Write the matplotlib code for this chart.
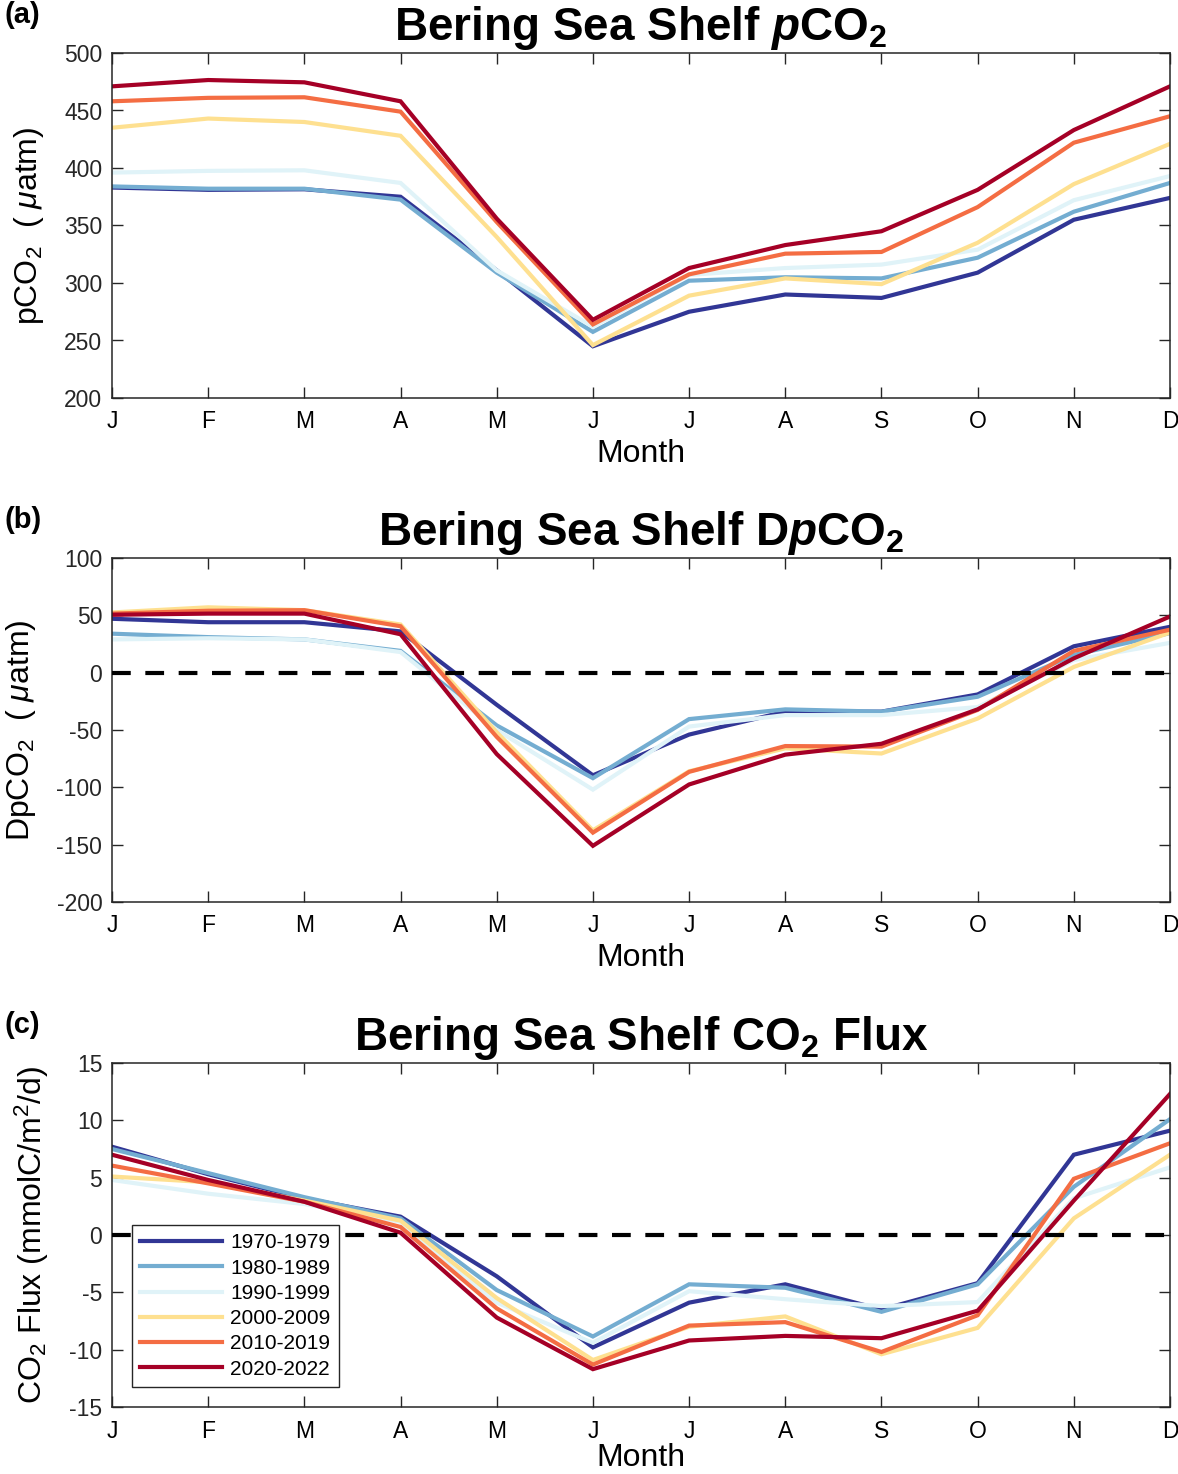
import matplotlib
matplotlib.use("Agg")
import matplotlib.pyplot as plt

plt.rcParams['font.family'] = ['Liberation Sans', 'DejaVu Sans']
plt.rcParams['mathtext.fontset'] = 'custom'
plt.rcParams['mathtext.rm'] = 'Liberation Sans'
plt.rcParams['mathtext.it'] = 'Liberation Sans:italic'
plt.rcParams['mathtext.bf'] = 'Liberation Sans:bold'
plt.rcParams['mathtext.bfit'] = 'Liberation Sans:italic:bold'
plt.rcParams['axes.unicode_minus'] = False

# data
months = ['J', 'F', 'M', 'A', 'M', 'J', 'J', 'A', 'S', 'O', 'N', 'D']
month_num = list(range(1, 13))
decades = ['1970-1979', '1980-1989', '1990-1999', '2000-2009', '2010-2019', '2020-2022']
colors = ['#313695', '#74add1', '#e0f3f8', '#fee090', '#f46d43', '#a50026']

pco2_1970 = [383, 381, 381.5, 375, 311, 245, 275, 290, 287, 309, 355, 374]
pco2_1980 = [384, 382, 382, 372.5, 309, 257.5, 302, 305, 304, 322, 362, 387]
pco2_1990 = [396, 397.5, 398, 387, 311, 262, 307, 313, 316, 329, 372, 393]
pco2_2000 = [435, 443, 440, 428, 340, 246, 289, 304, 299, 335, 386, 421]
pco2_2010 = [458, 461, 461.5, 449, 353, 264, 307.5, 325.5, 327, 366, 422, 445]
pco2_2020 = [471, 476.5, 474.5, 458, 356, 268, 313, 333, 345, 381, 433, 471]

dpco2_1970 = [47, 44, 44, 36, -28, -89.5, -54, -34, -34, -19, 23, 40]
dpco2_1980 = [34, 31, 29, 19, -46, -92, -40.5, -32, -34, -21, 15.5, 34.5]
dpco2_1990 = [29, 30, 29, 18, -50, -102, -47, -37, -37, -30, 11, 26]
dpco2_2000 = [52.5, 57, 54.5, 42, -52, -137.5, -86, -66, -70.5, -40, 5, 35]
dpco2_2010 = [51.5, 54, 54.5, 40.5, -56, -139.5, -86.5, -64, -64.5, -32.5, 19, 37.5]
dpco2_2020 = [50.5, 51.5, 51.5, 33.5, -71, -151, -97.5, -71.5, -62, -32, 12.5, 49]

flux_1970 = [7.7, 5.3, 3.2, 1.6, -3.6, -9.8, -5.9, -4.3, -6.5, -4.2, 7.0, 9.1]
flux_1980 = [7.5, 5.4, 3.3, 1.45, -4.8, -8.85, -4.3, -4.6, -6.7, -4.3, 4.2, 10.1]
flux_1990 = [4.8, 3.6, 2.7, 1.15, -5.9, -9.4, -4.9, -5.6, -6.2, -5.85, 3.2, 5.9]
flux_2000 = [5.1, 4.6, 3.0, 1.25, -5.5, -10.9, -8.0, -7.1, -10.4, -8.1, 1.45, 7.0]
flux_2010 = [6.05, 4.5, 2.9, 0.7, -6.4, -11.3, -7.9, -7.6, -10.2, -7.0, 4.9, 8.0]
flux_2020 = [7.0, 4.8, 2.9, 0.2, -7.2, -11.7, -9.2, -8.8, -9.0, -6.6, 3.0, 12.3]

pco2 = [pco2_1970, pco2_1980, pco2_1990, pco2_2000, pco2_2010, pco2_2020]
dpco2 = [dpco2_1970, dpco2_1980, dpco2_1990, dpco2_2000, dpco2_2010, dpco2_2020]
flux = [flux_1970, flux_1980, flux_1990, flux_2000, flux_2010, flux_2020]

W, H = 1178, 1474
fig = plt.figure(figsize=(W / 100, H / 100), dpi=100)

left = 112 / W
width = 1058 / W


def make_ax(top_px, bottom_px):
    return fig.add_axes([left, 1 - bottom_px / H, width, (bottom_px - top_px) / H])


ax_a = make_ax(53, 398)
ax_b = make_ax(558, 902)
ax_c = make_ax(1063, 1407)

gray = '#262626'
panels = [
    (ax_a, pco2, (200, 500), range(200, 501, 50), r'pCO$_2$  ( $\mu$atm)',
     r'Bering Sea Shelf $\mathbfit{p}\mathbf{CO_2}$', False, '(a)'),
    (ax_b, dpco2, (-200, 100), range(-200, 101, 50), r'DpCO$_2$  ( $\mu$atm)',
     r'Bering Sea Shelf D$\mathbfit{p}\mathbf{CO_2}$', True, '(b)'),
    (ax_c, flux, (-15, 15), range(-15, 16, 5), r'CO$_2$ Flux (mmolC/m$^2$/d)',
     r'Bering Sea Shelf CO$_\mathbf{2}$ Flux', True, '(c)'),
]

for ax, series, ylim, yticks, ylab, title, zero, tag in panels:
    for vals, lab, c in zip(series, decades, colors):
        ax.plot(month_num, vals, color=c, lw=3, label=lab, solid_joinstyle='miter')
    if zero:
        ax.axhline(0, color='black', lw=3, ls=(0, (4.5, 3.5)), zorder=5)
    ax.set_xlim(1, 12)
    ax.set_ylim(*ylim)
    ax.set_xticks(month_num)
    ax.set_xticklabels(months)
    ax.set_yticks(list(yticks))
    ax.tick_params(direction='in', length=8, width=1, colors=gray, labelsize=16.5,
                   top=True, right=True, pad=7)
    ax.tick_params(axis='x', labelcolor='black', pad=9)
    for s in ax.spines.values():
        s.set_color(gray)
        s.set_linewidth(1.1)
    ax.set_xlabel('Month', fontsize=23, labelpad=4)
    ax.set_ylabel(ylab, fontsize=23, labelpad=13)
    ax.set_title(title, fontsize=33, fontweight='bold', pad=9)
    bb = ax.get_position()
    fig.text(4 / W, bb.y1 + 24 / H, tag, fontsize=21, fontweight='bold', va='bottom', ha='left')

# bottom panel label sits at the figure edge, pull it up a little
ax_c.xaxis.labelpad = 0

leg = ax_c.legend(loc='lower left', bbox_to_anchor=(20 / 1058, 20 / 344), borderaxespad=0,
                  fontsize=15, handlelength=3.9, labelspacing=0.3, fancybox=False,
                  framealpha=1, edgecolor=gray, borderpad=0.4, handletextpad=0.4)
leg.get_frame().set_linewidth(1)
leg.set_zorder(10)

fig.savefig('out.png', dpi=100)
